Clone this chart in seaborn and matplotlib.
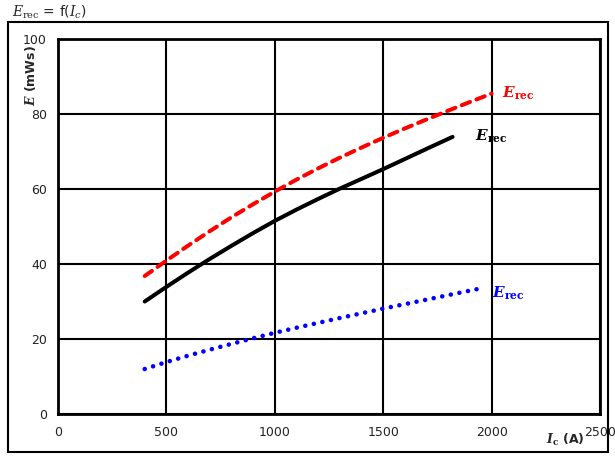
import matplotlib
matplotlib.use("Agg")
import matplotlib.pyplot as plt
from matplotlib.patches import Rectangle
import seaborn as sns
import pandas as pd

# Collector current (A) and recovery energy (mWs) for three operating conditions
ic_red = [400, 500, 600, 700, 800, 900, 1000, 1100, 1200, 1300, 1400,
          1500, 1600, 1700, 1800, 1900, 2000]
erec_red = [36.8, 40.9, 44.9, 48.75, 52.45, 55.95, 59.3, 62.5, 65.5, 68.35,
            71.05, 73.65, 76.15, 78.55, 80.9, 83.2, 85.45]

ic_black = [400, 500, 600, 700, 800, 900, 1000, 1100, 1200, 1300, 1400,
            1500, 1600, 1700, 1820]
erec_black = [30.0, 33.9, 37.7, 41.35, 44.85, 48.25, 51.5, 54.5, 57.35, 60.1,
              62.7, 65.3, 68.0, 70.7, 73.9]

ic_blue = [400, 500, 600, 700, 800, 900, 1000, 1100, 1200, 1300, 1400,
           1500, 1600, 1700, 1800, 1950]
erec_blue = [12.0, 13.85, 15.55, 17.15, 18.7, 20.2, 21.65, 23.0, 24.3, 25.6,
             26.85, 28.1, 29.3, 30.5, 31.7, 33.5]

x_ticks = [0, 500, 1000, 1500, 2000, 2500]
y_ticks = [0, 20, 40, 60, 80, 100]

sns.set_style("white")
plt.rcParams["font.family"] = ["DejaVu Sans"]
plt.rcParams["mathtext.fontset"] = "dejavuserif"

W, H = 615, 457
fig = plt.figure(figsize=(W / 100, H / 100), dpi=100)
ax = fig.add_axes([58 / W, 1 - 414 / H, (600 - 58) / W, (414 - 39) / H])

red = pd.DataFrame({"Ic": ic_red, "E": erec_red})
black = pd.DataFrame({"Ic": ic_black, "E": erec_black})
blue = pd.DataFrame({"Ic": ic_blue, "E": erec_blue})

sns.lineplot(data=red, x="Ic", y="E", ax=ax, color="#ff0000", lw=2.9,
             zorder=3)
ax.lines[-1].set_linestyle((0, (2.2, 1.7)))
ax.lines[-1].set_dash_capstyle("round")

sns.lineplot(data=black, x="Ic", y="E", ax=ax, color="black", lw=2.9,
             zorder=3)
ax.lines[-1].set_solid_capstyle("round")

sns.lineplot(data=blue, x="Ic", y="E", ax=ax, color="#0000ff", lw=3.3,
             zorder=3)
ax.lines[-1].set_linestyle((0, (0.01, 1.9)))
ax.lines[-1].set_dash_capstyle("round")

ax.set_xlim(0, 2500)
ax.set_ylim(0, 100)
ax.set_xticks(x_ticks)
ax.set_yticks(y_ticks)
ax.set_xticklabels([str(v) for v in x_ticks], fontsize=9, color="#222222")
ax.set_yticklabels([str(v) for v in y_ticks], fontsize=9, color="#222222")
ax.tick_params(axis="both", length=0)
ax.tick_params(axis="x", pad=9)
ax.tick_params(axis="y", pad=8)
ax.set_xlabel("")
ax.set_ylabel("")

ax.grid(True, color="black", lw=1.5)
ax.set_axisbelow(True)
for s in ax.spines.values():
    s.set_color("black")
    s.set_linewidth(2)

# Curve labels
lab = r"$\mathbfit{E}_{\mathbf{rec}}$"
ax.text(2050, 85.6, lab, color="#ff0000", fontsize=11, va="center", ha="left")
ax.text(1925, 74.0, lab, color="black", fontsize=11, va="center", ha="left")
ax.text(2000, 32.3, lab, color="#0000ff", fontsize=11, va="center", ha="left")

# Axis titles
fig.text(31 / W, 1 - 76 / H, r"$\mathbfit{E}$ (mWs)", rotation=90,
         fontsize=9, fontweight="bold", ha="center", va="center")
fig.text(565 / W, 1 - 440 / H, r"$\mathbfit{I}_{\mathbf{c}}$ (A)",
         fontsize=9, fontweight="bold", ha="center", va="center")

# Figure caption above the frame
fig.text(12 / W, 1 - 12 / H, r"$\mathit{E}_{\rm rec}$ = f($\mathit{I}_{c}$)",
         fontsize=10, ha="left", va="center")

# Outer frame around the chart area
fig.patches.append(Rectangle((8 / W, 1 - 452 / H), 600 / W, 430 / H,
                             transform=fig.transFigure, fill=False,
                             edgecolor="black", lw=1.5))

fig.savefig("out.png", dpi=100)
